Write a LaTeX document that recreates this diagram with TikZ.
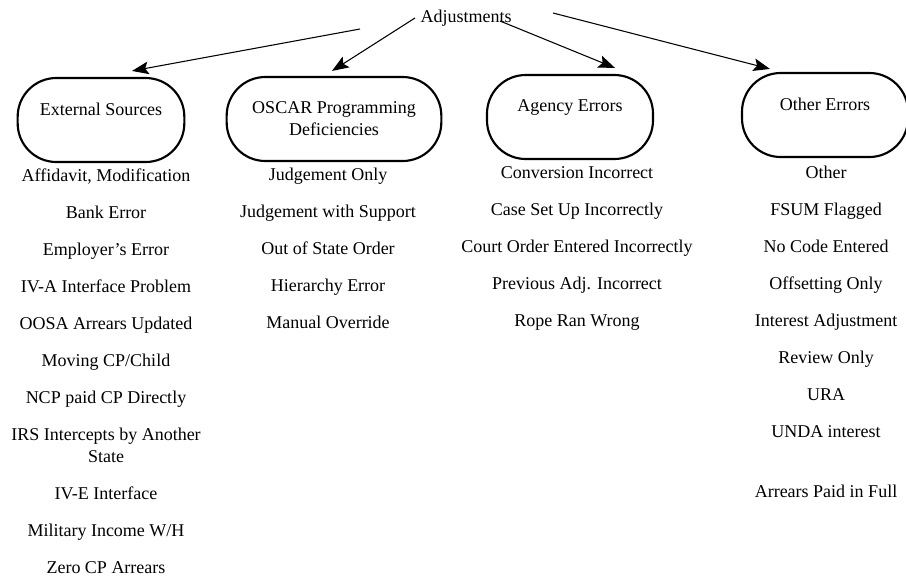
\documentclass[tikz,border=0pt]{standalone}
\usepackage{fontspec}
\setmainfont{Liberation Serif}
\usepackage{tikz}
\usetikzlibrary{positioning}
\usetikzlibrary{calc}
\usetikzlibrary{arrows.meta}

\tikzset{
  category/.style={draw, line width=1.6pt, rounded corners=29pt, minimum height=63pt, align=center, inner sep=0pt},
  itemlist/.style={align=center, anchor=north, inner sep=0pt, font=\fontsize{13.5}{27.75}\selectfont},
  pointer/.style={draw, line width=0.8pt, -{Stealth[length=12.5pt,width=9.5pt,inset=2.5pt]}}
}

\begin{document}
\begin{tikzpicture}[x=0.75pt, y=-0.75pt, font=\fontsize{13.5}{16.5}\selectfont]

\useasboundingbox (0,0) rectangle (906,579);

\node (adj) at (466,18) {Adjustments};

\node[category, minimum width=125pt] (ext) at (101,120) {External Sources\\ \mbox{}};
\node[category, minimum width=161pt] (oscar) at (334,119) {OSCAR Programming\\Deficiencies};
\node[category, minimum width=124.5pt] (agency) at (570,117) {Agency Errors\\ \mbox{}};
\node[category, minimum width=124.5pt] (other) at (825,115) {Other Errors\\ \mbox{}};

% arrow tails round the label
\coordinate (s1) at (360,29);
\coordinate (s2) at (415,18);
\coordinate (s3) at (500,21);
\coordinate (s4) at (553,13);

\path[pointer] (s1) -- ($(ext.north)+(31,-6)$);
\path[pointer] (s2) -- ($(oscar.north)+(-2,-5)$);
\path[pointer] (s3) -- ($(agency.north)+(45,-6)$);
\path[pointer] (s4) -- ($(other.north)+(-55,-3)$);

\node[itemlist] (extlist) at (106,169) {Affidavit, Modification\\Bank Error\\Employer's Error\\IV-A Interface Problem\\OOSA Arrears Updated\\Moving CP/Child\\NCP paid CP Directly\\IRS Intercepts by Another\\[-11.25pt]State\\IV-E Interface\\Military Income W/H\\Zero CP Arrears};

\node[itemlist] (oscarlist) at (328,168) {Judgement Only\\Judgement with Support\\Out of State Order\\Hierarchy Error\\Manual Override};

\node[itemlist] (agencylist) at (577,166) {Conversion Incorrect\\Case Set Up Incorrectly\\Court Order Entered Incorrectly\\Previous Adj. Incorrect\\Rope Ran Wrong};

\node[itemlist] (otherlist) at (826,166) {Other\\FSUM Flagged\\No Code Entered\\Offsetting Only\\Interest Adjustment\\Review Only\\URA\\UNDA interest\\[17.25pt]Arrears Paid in Full};

\end{tikzpicture}
\end{document}
